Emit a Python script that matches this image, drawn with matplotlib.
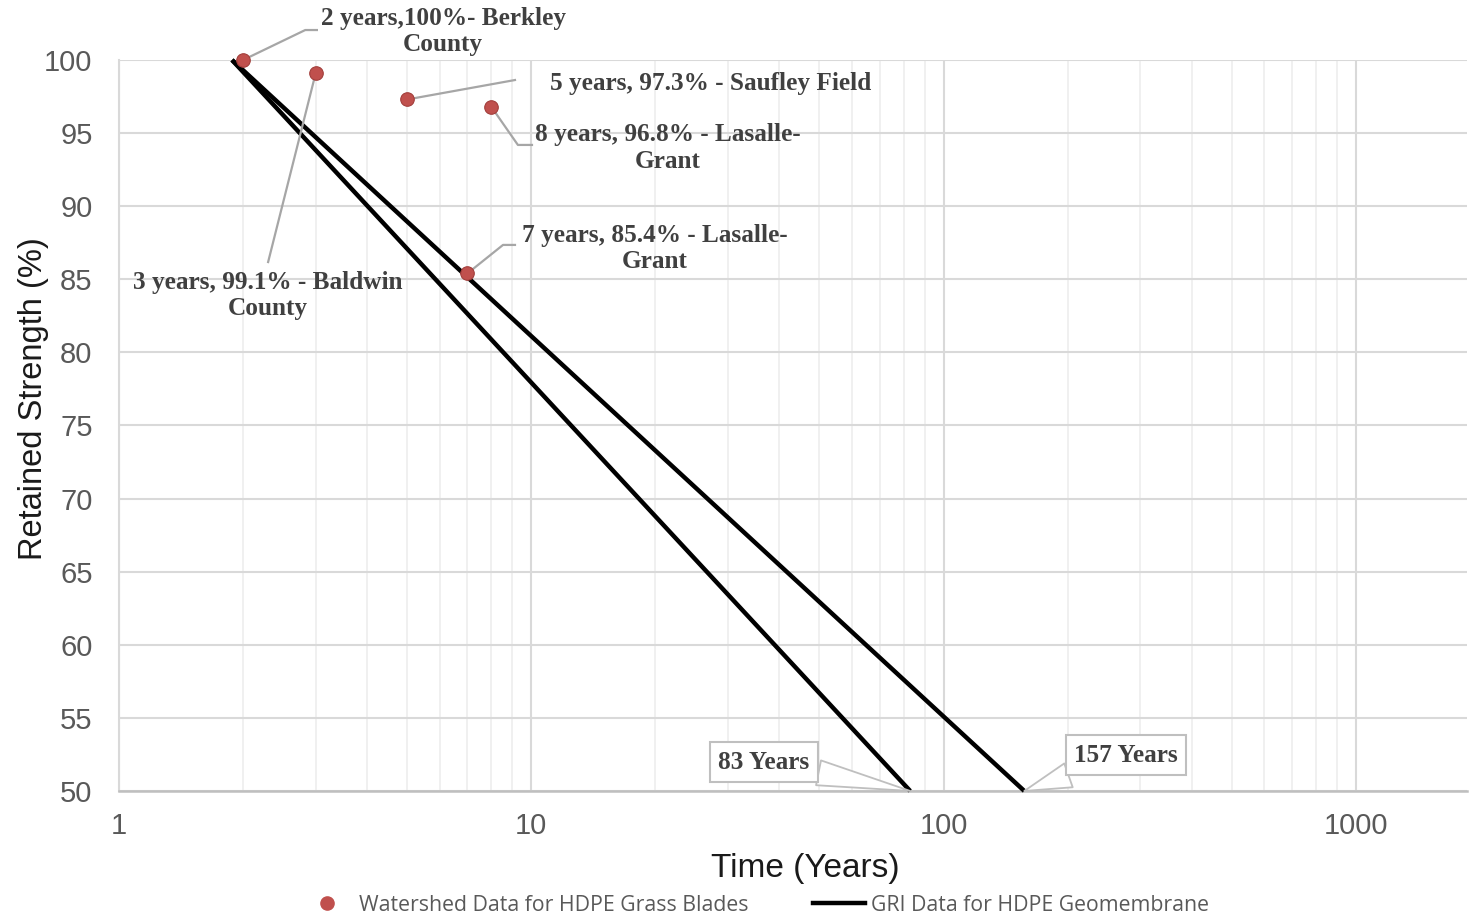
import matplotlib
matplotlib.use("Agg")
import matplotlib.pyplot as plt
from matplotlib.lines import Line2D
from matplotlib.ticker import FixedLocator, NullFormatter

# ---- data ----
obs_years = [2, 3, 5, 8, 7]
obs_strength = [100, 99.1, 97.3, 96.8, 85.4]
obs_labels = ["2 years,100%- Berkley\nCounty",
              "3 years, 99.1% - Baldwin\nCounty",
              "5 years, 97.3% - Saufley Field",
              "8 years, 96.8% - Lasalle-\nGrant",
              "7 years, 85.4% - Lasalle-\nGrant"]
gri_start = 1.88
gri_end_years = [83, 157]
gri_strength = [100, 50]
gri_labels = ["83 Years", "157 Years"]

y_ticks = [50, 55, 60, 65, 70, 75, 80, 85, 90, 95, 100]
x_ticks = [1, 10, 100, 1000]
x_ticklabels = ["1", "10", "100", "1000"]

# ---- label placement (data coords) ----
label_pos = [(6.11, 101.95), (2.30, 83.9), (27.3, 98.36), (21.46, 94.0), (19.95, 87.1)]
leader_pts = [[(2.83, 102.05), (3.02, 102.05)],
              [(2.30, 86.18)],
              [(9.13, 98.63)],
              [(9.28, 94.19), (10.04, 94.19)],
              [(8.54, 87.35), (9.13, 87.35)]]
box_pos = [(36.7, 51.98), (277, 52.46)]

C_GRID, C_MINOR, C_TICK = "#D9D9D9", "#EEEEEE", "#595959"
C_RED, C_ANN, C_LEAD = "#C0504D", "#404040", "#A6A6A6"
SANS = ["Liberation Sans", "DejaVu Sans"]
SERIF = ["Liberation Serif", "DejaVu Serif"]

fig = plt.figure(figsize=(14.69, 9.16), dpi=100)
ax = fig.add_axes([0.0810, 0.1365, 0.9176, 0.798])
ax.set_xscale("log")
ax.set_xlim(1, 1860)
ax.set_ylim(50, 100)

# grid
ax.xaxis.set_major_locator(FixedLocator(x_ticks))
minors = [m * 10 ** d for d in range(4) for m in range(2, 10)]
ax.xaxis.set_minor_locator(FixedLocator(minors))
ax.xaxis.set_minor_formatter(NullFormatter())
ax.set_xticklabels(x_ticklabels)
ax.set_yticks(y_ticks)
ax.grid(True, which="major", color=C_GRID, lw=1.5)
ax.grid(True, which="minor", axis="x", color=C_MINOR, lw=1.2)
ax.set_axisbelow(True)
for s in ("top", "right"):
    ax.spines[s].set_visible(False)
ax.spines["left"].set_color(C_GRID)
ax.spines["left"].set_linewidth(1.5)
ax.spines["bottom"].set_color("#BFBFBF")
ax.spines["bottom"].set_linewidth(1.8)
ax.tick_params(which="both", length=0)
ax.tick_params(axis="y", pad=19, labelsize=21, labelcolor=C_TICK)
ax.tick_params(axis="x", pad=15, labelsize=21, labelcolor=C_TICK)
for t in ax.get_xticklabels() + ax.get_yticklabels():
    t.set_family(SANS)

ax.set_ylabel("Retained Strength (%)", fontsize=23.5, family=SANS, color="#1A1A1A")
ax.yaxis.set_label_coords(-0.052, 0.537)
ax.set_xlabel("Time (Years)", fontsize=24, family=SANS, color="#1A1A1A")
ax.xaxis.set_label_coords(0.509, -0.085)

# GRI lines
for end in gri_end_years:
    ax.plot([gri_start, end], gri_strength, color="black", lw=3.2,
            solid_capstyle="butt", clip_on=False, zorder=3)

# observations
ax.scatter(obs_years, obs_strength, s=95, color=C_RED, edgecolor="#A23E3B",
           linewidth=0.8, zorder=5, clip_on=False)

# data labels with leader lines
for x, y, lab, pos, pts in zip(obs_years, obs_strength, obs_labels, label_pos, leader_pts):
    xs = [x] + [p[0] for p in pts]
    ys = [y] + [p[1] for p in pts]
    ax.plot(xs, ys, color=C_LEAD, lw=1.6, zorder=4, clip_on=False)
    ax.text(pos[0], pos[1], lab, ha="center", va="center", multialignment="center",
            fontsize=18.2, fontweight="bold", family=SERIF, color=C_ANN,
            linespacing=1.2, zorder=6, clip_on=False)

# callouts for line end points
for end, lab, pos in zip(gri_end_years, gri_labels, box_pos):
    ax.annotate(lab, xy=(end, 50), xytext=pos, ha="center", va="center",
                fontsize=18.2, fontweight="bold", family=SERIF, color=C_ANN,
                bbox=dict(boxstyle="square,pad=0.32", fc="white", ec="#BFBFBF", lw=1.5),
                arrowprops=dict(arrowstyle="wedge,tail_width=1.0,shrink_factor=0.5",
                                fc="white", ec="#BFBFBF", lw=1.3, shrinkA=0, shrinkB=0),
                annotation_clip=False, zorder=6)

# legend
handles = [Line2D([], [], ls="none", marker="o", ms=9.5, mfc=C_RED, mec=C_RED),
           Line2D([], [], color="black", lw=3.2)]
leg = fig.legend(handles, ["Watershed Data for HDPE Grass Blades",
                           "GRI Data for HDPE Geomembrane"],
                 loc="center", bbox_to_anchor=(0.514, 0.012), ncol=2, frameon=False,
                 handlelength=2.45, handletextpad=0.3, columnspacing=3.0,
                 prop={"family": ["Open Sans", "DejaVu Sans"], "size": 15.3})
for t in leg.get_texts():
    t.set_color(C_TICK)

fig.savefig("out.png", dpi=100, facecolor="white")
